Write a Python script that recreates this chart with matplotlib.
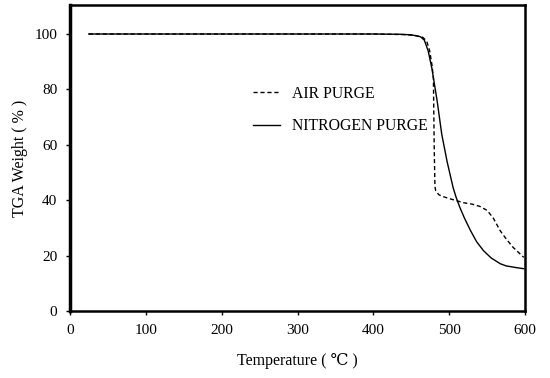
import matplotlib
matplotlib.use("Agg")
import matplotlib.pyplot as plt

plt.rcParams['font.family'] = ['Liberation Serif', 'DejaVu Serif']

# air purge (dashed)
air_temp = [25, 200, 400, 440, 455, 465, 470, 474, 477, 479, 480, 481, 482, 486, 492,
            500, 510, 519, 530, 540, 550, 558, 567, 575, 584, 598]
air_wt = [100, 100, 100, 99.8, 99.5, 98.8, 97.5, 94, 89, 84, 60, 45, 43.5, 42, 41.3,
          40.6, 39.8, 39.1, 38.6, 37.8, 36.3, 33.5, 29, 26, 23, 19.4]

# nitrogen purge (solid)
n2_temp = [25, 200, 400, 435, 450, 462, 467, 472, 477, 484, 490, 497, 505, 509, 514,
           520, 528, 536, 545, 555, 567, 575, 588, 598]
n2_wt = [100, 100, 100, 99.9, 99.7, 99, 97.8, 94, 87.6, 75.7, 63.8, 54, 44.5, 41, 37.3,
         33.5, 29, 25, 21.8, 19.2, 17.1, 16.3, 15.7, 15.3]

x_ticks = [0, 100, 200, 300, 400, 500, 600]
y_ticks = [0, 20, 40, 60, 80, 100]

fig = plt.figure(figsize=(5.5, 3.78), dpi=100)
ax = fig.add_axes([0.127, 0.177, 0.828, 0.81])

ax.plot(air_temp, air_wt, color='black', lw=1.0, ls=(0, (3, 2)), label='AIR PURGE')
ax.plot(n2_temp, n2_wt, color='black', lw=1.0, label='NITROGEN PURGE')

ax.set_xlim(0, 600)
ax.set_ylim(0, 110.5)
ax.set_xticks(x_ticks)
ax.set_yticks(y_ticks)
ax.tick_params(labelsize=11, length=3, width=1, pad=6)

for s in ax.spines.values():
    s.set_linewidth(1.8)
ax.spines['left'].set_linewidth(2.5)

ax.set_xlabel('Temperature ( \u2103 )', fontsize=11.5, labelpad=12)
ax.set_ylabel('TGA Weight ( % )', fontsize=11.5, labelpad=5)

ax.legend(loc='center left', bbox_to_anchor=(0.402, 0.657), frameon=False,
          fontsize=11.3, handlelength=1.7, handletextpad=0.8,
          labelspacing=1.05, borderpad=0, borderaxespad=0)

fig.savefig('out.png', dpi=100)
